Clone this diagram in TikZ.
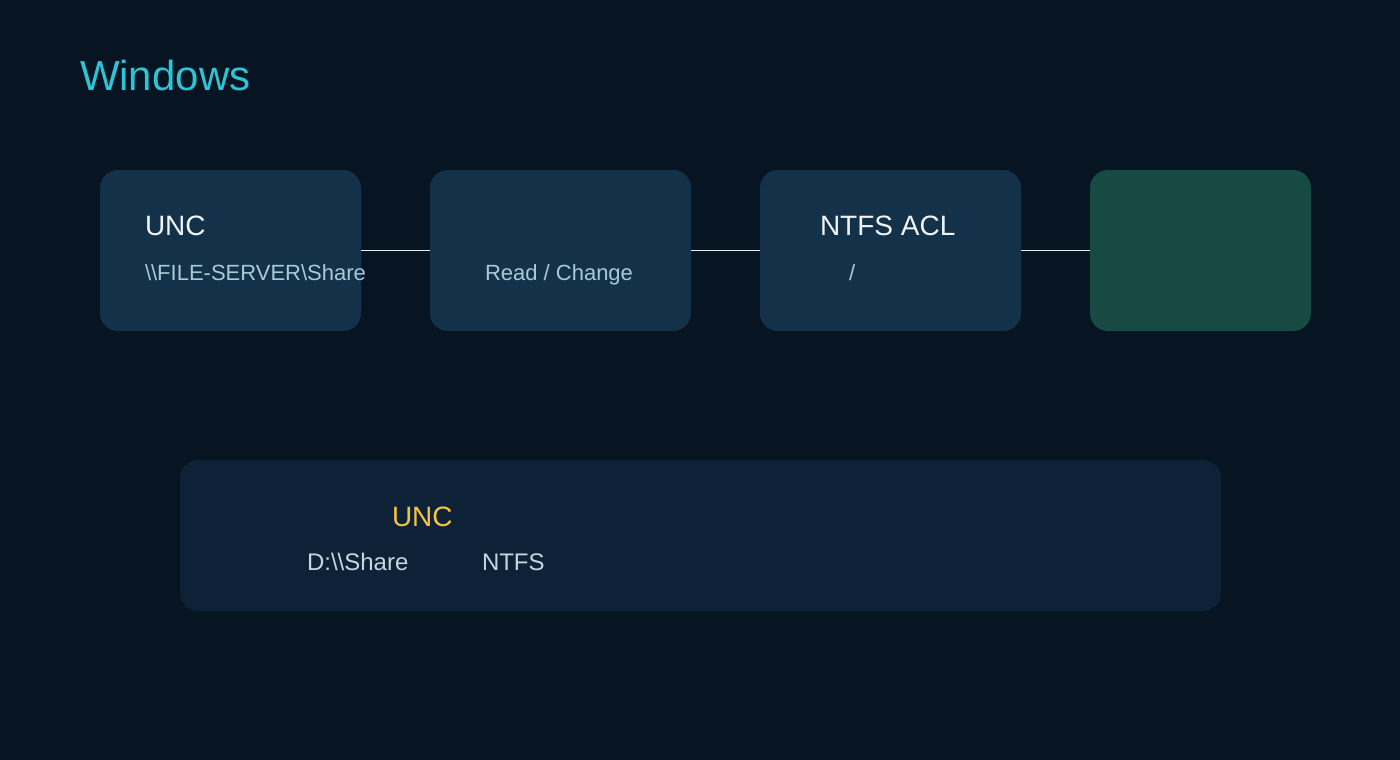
\documentclass[tikz,border=0pt]{standalone}
\usepackage{fontspec}
\setmainfont{Liberation Sans}
\definecolor{bg}{HTML}{071522}
\definecolor{boxblue}{HTML}{13324A}
\definecolor{boxgreen}{HTML}{164A42}
\definecolor{panel}{HTML}{0D2236}
\definecolor{titlecol}{HTML}{2EC4D6}
\definecolor{headcol}{HTML}{EEF4F8}
\definecolor{subcol}{HTML}{A6CAD6}
\definecolor{notecol}{HTML}{C4D6DE}
\definecolor{yellowcol}{HTML}{F5C242}
\definecolor{linecol}{HTML}{E6EEF2}
\tikzset{
  stagebox/.style={fill=boxblue, draw=none, rounded corners=18pt},
  endbox/.style={fill=boxgreen, draw=none, rounded corners=18pt},
  panelbox/.style={fill=panel, draw=none, rounded corners=18pt},
  lbl/.style={anchor=base west, inner sep=0pt, outer sep=0pt},
  head/.style={lbl, text=headcol, font=\fontsize{28}{32}\selectfont},
  sub/.style={lbl, text=subcol, font=\fontsize{22}{26}\selectfont},
  note/.style={lbl, text=notecol, font=\fontsize{24}{28}\selectfont},
  link/.style={draw=linecol, line width=1pt},
}
\begin{document}
\begin{tikzpicture}[x=1pt,y=-1pt]
\useasboundingbox (0,0) rectangle (1400,760);
\fill[bg] (0,0) rectangle (1400,760);
\node[lbl, text=titlecol, font=\fontsize{42}{48}\selectfont] (title) at (80,91) {Windows};
% stage boxes
\path[stagebox] (100,170) rectangle (361,331);
\node[inner sep=0pt, minimum width=261pt, minimum height=161pt] (b1) at (230.5,250.5) {};
\path[stagebox] (430,170) rectangle (691,331);
\node[inner sep=0pt, minimum width=261pt, minimum height=161pt] (b2) at (560.5,250.5) {};
\path[stagebox] (760,170) rectangle (1021,331);
\node[inner sep=0pt, minimum width=261pt, minimum height=161pt] (b3) at (890.5,250.5) {};
\path[endbox] (1090,170) rectangle (1311,331);
\node[inner sep=0pt, minimum width=221pt, minimum height=161pt] (b4) at (1200.5,250.5) {};
% connectors
\draw[link] (b1.east |- 0,250) coordinate (c1) -- (b2.west |- c1);
\draw[link] (b2.east |- 0,250) coordinate (c2) -- (b3.west |- c2);
\draw[link] (b3.east |- 0,250) coordinate (c3) -- (b4.west |- c3);
% texts
\node[head] (t1) at (145,235) {UNC};
\node[sub] (s1) at (145,280) {\textbackslash\textbackslash FILE-SERVER\textbackslash Share};
\node[sub] (s2) at (485,280) {Read / Change};
\node[head] (t3) at (820,235) {NTFS ACL};
\node[sub] (s3) at (849,280) {/};
% bottom panel
\path[panelbox] (180,460) rectangle (1221,611);
\node[inner sep=0pt, minimum width=1041pt, minimum height=151pt] (panel) at (700.5,535.5) {};
\node[lbl, text=yellowcol, font=\fontsize{28}{32}\selectfont] (u) at (392,526) {UNC};
\node[note] (d) at (307,570) {D:\textbackslash\textbackslash Share};
\node[note] (n) at (482,570) {NTFS};
\end{tikzpicture}
\end{document}
